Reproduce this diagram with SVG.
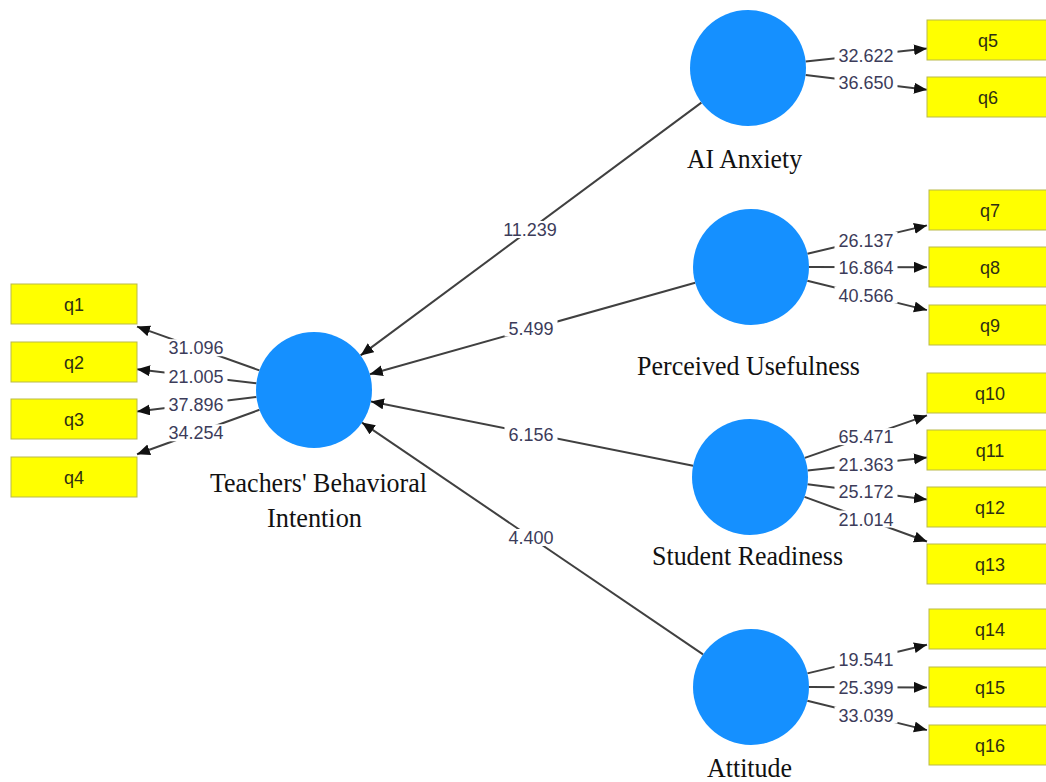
<svg xmlns="http://www.w3.org/2000/svg" width="1046" height="782" viewBox="0 0 1046 782">
<defs>
<style>
.box{fill:#ffff00;stroke:#b9b94a;stroke-width:1}
.qt{font-family:"Liberation Sans",Arial,sans-serif;font-size:18px;fill:#2e2e14;text-anchor:middle}
.lv{fill:#1590ff}
.nm{font-family:"Liberation Serif","Times New Roman",serif;font-size:27px;fill:#111;text-anchor:middle}
.ln{stroke:#404040;stroke-width:2;fill:none;marker-end:url(#ah)}
.lb{fill:#ffffff}
.nt{font-family:"Liberation Sans",Arial,sans-serif;font-size:18px;fill:#3c3c5a;text-anchor:middle}
</style>
<marker id="ah" markerUnits="userSpaceOnUse" markerWidth="14" markerHeight="12" refX="13" refY="5.5" orient="auto">
<path d="M0,0 L13,5.5 L0,11 z" fill="#111"/>
</marker>
</defs>
<rect width="1046" height="782" fill="#ffffff"/>
<g id="connectors">
<line class="ln" x1="259.4" y1="370.4" x2="137" y2="326.6"/>
<line class="ln" x1="256.4" y1="383.3" x2="137" y2="369.3"/>
<line class="ln" x1="256.4" y1="397.0" x2="137" y2="411.4"/>
<line class="ln" x1="259.5" y1="409.8" x2="137" y2="454.2"/>
<line class="ln" x1="805.6" y1="61.5" x2="927" y2="48.5"/>
<line class="ln" x1="805.6" y1="75.0" x2="927" y2="89.8"/>
<line class="ln" x1="807.4" y1="253.7" x2="927" y2="225.4"/>
<line class="ln" x1="809" y1="267" x2="927" y2="267.3"/>
<line class="ln" x1="807.3" y1="280.8" x2="927" y2="310.1"/>
<line class="ln" x1="804.8" y1="457.9" x2="927" y2="415.4"/>
<line class="ln" x1="807.6" y1="470.6" x2="927" y2="457.5"/>
<line class="ln" x1="807.5" y1="484.3" x2="927" y2="499.5"/>
<line class="ln" x1="804.5" y1="496.9" x2="927" y2="541.5"/>
<line class="ln" x1="807.4" y1="673.4" x2="927" y2="644.7"/>
<line class="ln" x1="809" y1="687.1" x2="927" y2="687.4"/>
<line class="ln" x1="807.3" y1="700.8" x2="927" y2="730.1"/>
<line class="ln" x1="701.4" y1="102.6" x2="360.6" y2="355.4"/>
<line class="ln" x1="695.2" y1="282.7" x2="369.8" y2="374.3"/>
<line class="ln" x1="693.1" y1="465.7" x2="370.9" y2="401.4"/>
<line class="ln" x1="703.0" y1="654.4" x2="362.0" y2="422.6"/>
<g id="labels">
<rect class="lb" x="164.5" y="339.2" width="63" height="17"/><text class="nt" x="196" y="354.2">31.096</text>
<rect class="lb" x="164.5" y="367.7" width="63" height="17"/><text class="nt" x="196" y="382.7">21.005</text>
<rect class="lb" x="164.5" y="395.8" width="63" height="17"/><text class="nt" x="196" y="410.8">37.896</text>
<rect class="lb" x="164.5" y="424.3" width="63" height="17"/><text class="nt" x="196" y="439.3">34.254</text>
<rect class="lb" x="834.5" y="46.5" width="63" height="17"/><text class="nt" x="866" y="61.5">32.622</text>
<rect class="lb" x="834.5" y="73.5" width="63" height="17"/><text class="nt" x="866" y="88.5">36.650</text>
<rect class="lb" x="834.5" y="232" width="63" height="17"/><text class="nt" x="866" y="247">26.137</text>
<rect class="lb" x="834.5" y="258.5" width="63" height="17"/><text class="nt" x="866" y="273.5">16.864</text>
<rect class="lb" x="834.5" y="286.5" width="63" height="17"/><text class="nt" x="866" y="301.5">40.566</text>
<rect class="lb" x="834.5" y="428.1" width="63" height="17"/><text class="nt" x="866" y="443.1">65.471</text>
<rect class="lb" x="834.5" y="456" width="63" height="17"/><text class="nt" x="866" y="471">21.363</text>
<rect class="lb" x="834.5" y="483" width="63" height="17"/><text class="nt" x="866" y="498">25.172</text>
<rect class="lb" x="834.5" y="510.5" width="63" height="17"/><text class="nt" x="866" y="525.5">21.014</text>
<rect class="lb" x="834.5" y="651" width="63" height="17"/><text class="nt" x="866" y="666">19.541</text>
<rect class="lb" x="834.5" y="678.5" width="63" height="17"/><text class="nt" x="866" y="693.5">25.399</text>
<rect class="lb" x="834.5" y="706.5" width="63" height="17"/><text class="nt" x="866" y="721.5">33.039</text>
<rect class="lb" x="498.5" y="221" width="63" height="17"/><text class="nt" x="530" y="236">11.239</text>
<rect class="lb" x="504.5" y="319.5" width="53" height="17"/><text class="nt" x="531" y="334.5">5.499</text>
<rect class="lb" x="504.5" y="425.5" width="53" height="17"/><text class="nt" x="531" y="440.5">6.156</text>
<rect class="lb" x="504.5" y="529" width="53" height="17"/><text class="nt" x="531" y="544">4.400</text>
</g>
</g>
<g id="tbi"><circle class="lv" cx="314" cy="390" r="58"/><text class="nm" x="318.5" y="492" textLength="217" lengthAdjust="spacingAndGlyphs">Teachers' Behavioral</text><text class="nm" x="314.5" y="527" textLength="95" lengthAdjust="spacingAndGlyphs">Intention</text></g>
<g id="ai"><circle class="lv" cx="748" cy="68" r="58"/><text class="nm" x="744.5" y="168" textLength="115" lengthAdjust="spacingAndGlyphs">AI Anxiety</text></g>
<g id="pu"><circle class="lv" cx="751" cy="267" r="58"/><text class="nm" x="748.5" y="375" textLength="223" lengthAdjust="spacingAndGlyphs">Perceived Usefulness</text></g>
<g id="sr"><circle class="lv" cx="750" cy="477" r="58"/><text class="nm" x="747.5" y="565" textLength="191" lengthAdjust="spacingAndGlyphs">Student Readiness</text></g>
<g id="att"><circle class="lv" cx="751" cy="687" r="58"/><text class="nm" x="749.5" y="777" textLength="85" lengthAdjust="spacingAndGlyphs">Attitude</text></g>
<g id="q1"><rect class="box" x="11" y="284" width="126" height="40"/><text class="qt" x="74" y="310.5">q1</text></g>
<g id="q2"><rect class="box" x="11" y="342" width="126" height="40"/><text class="qt" x="74" y="368.5">q2</text></g>
<g id="q3"><rect class="box" x="11" y="399" width="126" height="40"/><text class="qt" x="74" y="425.5">q3</text></g>
<g id="q4"><rect class="box" x="11" y="457" width="126" height="40"/><text class="qt" x="74" y="483.5">q4</text></g>
<g id="q5"><rect class="box" x="927" y="20" width="126" height="40"/><text class="qt" x="988" y="46.5">q5</text></g>
<g id="q6"><rect class="box" x="927" y="77" width="126" height="40"/><text class="qt" x="988" y="103.5">q6</text></g>
<g id="q7"><rect class="box" x="929" y="190" width="126" height="40"/><text class="qt" x="990" y="216.5">q7</text></g>
<g id="q8"><rect class="box" x="929" y="247" width="126" height="40"/><text class="qt" x="990" y="273.5">q8</text></g>
<g id="q9"><rect class="box" x="929" y="305" width="126" height="40"/><text class="qt" x="990" y="331.5">q9</text></g>
<g id="q10"><rect class="box" x="927" y="373" width="126" height="40"/><text class="qt" x="990" y="399.5">q10</text></g>
<g id="q11"><rect class="box" x="927" y="430" width="126" height="40"/><text class="qt" x="990" y="456.5">q11</text></g>
<g id="q12"><rect class="box" x="927" y="487" width="126" height="40"/><text class="qt" x="990" y="513.5">q12</text></g>
<g id="q13"><rect class="box" x="927" y="544" width="126" height="40"/><text class="qt" x="990" y="570.5">q13</text></g>
<g id="q14"><rect class="box" x="929" y="609" width="126" height="40"/><text class="qt" x="990" y="635.5">q14</text></g>
<g id="q15"><rect class="box" x="929" y="667" width="126" height="40"/><text class="qt" x="990" y="693.5">q15</text></g>
<g id="q16"><rect class="box" x="929" y="725" width="126" height="40"/><text class="qt" x="990" y="751.5">q16</text></g>
</svg>
